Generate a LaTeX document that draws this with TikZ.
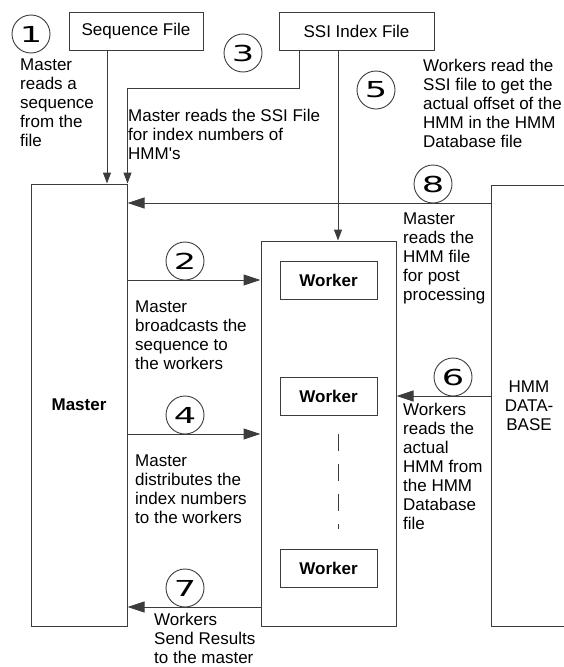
\documentclass[tikz,border=0pt]{standalone}
\usepackage{fontspec}
\setmainfont{Liberation Sans}
\newfontfamily\numfont[FakeStretch=1.6]{DejaVu Sans}
\usetikzlibrary{arrows.meta}
\definecolor{LineGray}{RGB}{60,60,60}
\tikzset{
  % scatole
  box/.style={draw=LineGray,line width=1pt,inner sep=0pt,font=\fontsize{17}{19}\selectfont},
  worker/.style={box,minimum width=97pt,minimum height=38pt,font=\fontsize{17}{19}\selectfont\bfseries},
  % numeri cerchiati
  num/.style={circle,draw=LineGray,line width=0.9pt,minimum size=38pt,inner sep=0pt,font=\numfont\fontsize{22}{22}\selectfont},
  % testi
  note/.style={anchor=north west,align=left,inner sep=0pt,font=\fontsize{17}{19}\selectfont},
  % frecce
  varrow/.style={LineGray,line width=1pt,-{Triangle[length=11pt,width=8pt]}},
  harrow/.style={LineGray,line width=1pt,-{Triangle[length=17pt,width=11pt]}}
}

\begin{document}
\begin{tikzpicture}[x=1pt,y=-1pt]
        \useasboundingbox (0,0) rectangle (563,667);
        \node[box,minimum width=134pt,minimum height=38pt] (seq) at (136,31) {Sequence File};
        \node[box,minimum width=155pt,minimum height=38pt] (ssi) at (356.5,31) {SSI Index File};
        \node[box,minimum width=96pt,minimum height=442pt,font=\fontsize{17}{19}\selectfont\bfseries] (master) at (79,405) {Master};
        \node[box,minimum width=135pt,minimum height=385pt] (pool) at (328.5,433.5) {};
        \node[box,minimum width=76pt,minimum height=441pt,align=center] (hmm) at (529,405.5) {HMM\\DATA-\\BASE};
        \node[worker] (w1) at (328.5,280) {Worker};
        \node[worker] (w2) at (328.5,396) {Worker};
        \node[worker] (w3) at (328.5,568) {Worker};
        \node[num] (n1) at (31,34) {1};
        \node[num] (n3) at (243,53) {3};
        \node[num] (n5) at (376,90) {5};
        \node[num] (n8) at (433,184) {8};
        \node[num] (n2) at (185,261) {2};
        \node[num] (n4) at (185,415) {4};
        \node[num] (n6) at (453,377) {6};
        \node[num] (n7) at (185,588) {7};
        \node[note] (t1) at (20,59) {Master\\reads a\\sequence\\from the\\file};
        \node[note] (t3) at (128,109) {Master reads the SSI File\\for index numbers of\\HMM\textquotesingle s};
        \node[note] (t5) at (423,59) {Workers read the\\SSI file to get the\\actual offset of the\\HMM in the HMM\\Database file};
        \node[note] (t8) at (403,213) {Master\\reads the\\HMM file\\for post\\processing};
        \node[note] (t2) at (135,301) {Master\\broadcasts the\\sequence to\\the workers};
        \node[note] (t6) at (403,403) {Workers\\reads the\\actual\\HMM from\\the HMM\\Database\\file};
        \node[note] (t4) at (135,455) {Master\\distributes the\\index numbers\\to the workers};
        \node[note] (t7) at (154,613) {Workers\\Send Results\\to the master};
        \draw[varrow] (seq.south -| 107,0) -- (master.north -| 107,0);
        \draw[varrow] (ssi.south -| 299,0) -- (299,88) -| (master.north east);
        \draw[varrow] (ssi.south -| 338,0) -- (pool.north -| 338,0);
        \draw[harrow] (hmm.west |- 0,203) -- (master.east |- 0,203);
        \draw[harrow] (master.east |- w1) -- (pool.west |- w1);
        \draw[harrow] (master.east |- 0,434) -- (pool.west |- 0,434);
        \draw[harrow] (hmm.west |- w2) -- (pool.east |- w2);
        \draw[harrow] (pool.west |- 0,607) -- (master.east |- 0,607);
        \draw[LineGray,line width=1pt,dash pattern=on 17pt off 13pt] (338,434) -- (338,529);
      \end{tikzpicture}
\end{document}
